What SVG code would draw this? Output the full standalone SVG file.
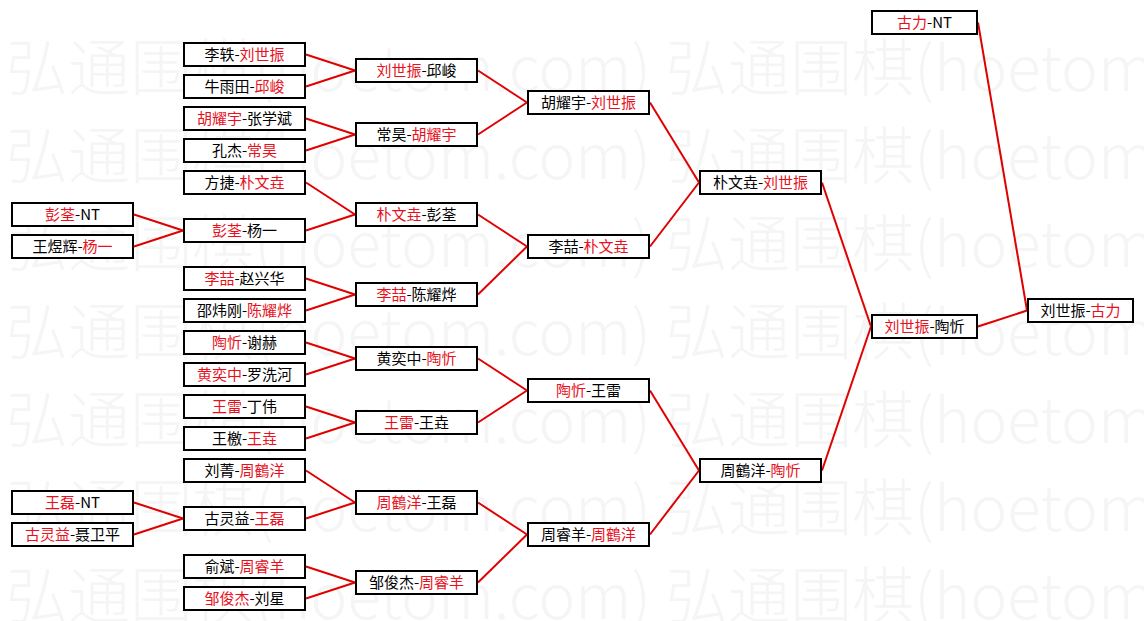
<svg xmlns="http://www.w3.org/2000/svg" width="1144" height="621" viewBox="0 0 1144 621">
<style>
.wm{font-family:"Noto Sans CJK SC","Liberation Serif",serif;font-size:62px;font-weight:300;fill:#f5f5f5}
.box{fill:#fff;stroke:#000;stroke-width:2}
.t{font-family:"Noto Sans CJK SC","Noto Sans CJK JP",sans-serif;font-size:15px;fill:#000;text-anchor:middle}
.r{fill:#e8101c}
.con line{stroke:#e00000;stroke-width:2}
</style>
<rect width="1144" height="621" fill="#fff"/>
<g id="watermark">
<text class="wm" x="6" y="91" textLength="645" lengthAdjust="spacingAndGlyphs">弘通围棋(hoetom.com)</text>
<text class="wm" x="666" y="91" textLength="645" lengthAdjust="spacingAndGlyphs">弘通围棋(hoetom.com)</text>
<text class="wm" x="6" y="179" textLength="645" lengthAdjust="spacingAndGlyphs">弘通围棋(hoetom.com)</text>
<text class="wm" x="666" y="179" textLength="645" lengthAdjust="spacingAndGlyphs">弘通围棋(hoetom.com)</text>
<text class="wm" x="6" y="267" textLength="645" lengthAdjust="spacingAndGlyphs">弘通围棋(hoetom.com)</text>
<text class="wm" x="666" y="267" textLength="645" lengthAdjust="spacingAndGlyphs">弘通围棋(hoetom.com)</text>
<text class="wm" x="6" y="355" textLength="645" lengthAdjust="spacingAndGlyphs">弘通围棋(hoetom.com)</text>
<text class="wm" x="666" y="355" textLength="645" lengthAdjust="spacingAndGlyphs">弘通围棋(hoetom.com)</text>
<text class="wm" x="6" y="443" textLength="645" lengthAdjust="spacingAndGlyphs">弘通围棋(hoetom.com)</text>
<text class="wm" x="666" y="443" textLength="645" lengthAdjust="spacingAndGlyphs">弘通围棋(hoetom.com)</text>
<text class="wm" x="6" y="531" textLength="645" lengthAdjust="spacingAndGlyphs">弘通围棋(hoetom.com)</text>
<text class="wm" x="666" y="531" textLength="645" lengthAdjust="spacingAndGlyphs">弘通围棋(hoetom.com)</text>
<text class="wm" x="6" y="619" textLength="645" lengthAdjust="spacingAndGlyphs">弘通围棋(hoetom.com)</text>
<text class="wm" x="666" y="619" textLength="645" lengthAdjust="spacingAndGlyphs">弘通围棋(hoetom.com)</text>
</g>
<g id="connectors" class="con">
<line x1="134" y1="214.5" x2="183" y2="230.5"/>
<line x1="134" y1="246.5" x2="183" y2="230.5"/>
<line x1="134" y1="502.5" x2="183" y2="518.5"/>
<line x1="134" y1="534.5" x2="183" y2="518.5"/>
<line x1="306" y1="54.5" x2="355" y2="70.5"/>
<line x1="306" y1="86.5" x2="355" y2="70.5"/>
<line x1="306" y1="118.5" x2="355" y2="134.5"/>
<line x1="306" y1="150.5" x2="355" y2="134.5"/>
<line x1="306" y1="182.5" x2="355" y2="214.5"/>
<line x1="306" y1="230.5" x2="355" y2="214.5"/>
<line x1="306" y1="278.5" x2="355" y2="294.5"/>
<line x1="306" y1="310.5" x2="355" y2="294.5"/>
<line x1="306" y1="342.5" x2="355" y2="358.5"/>
<line x1="306" y1="374.5" x2="355" y2="358.5"/>
<line x1="306" y1="406.5" x2="355" y2="422.5"/>
<line x1="306" y1="438.5" x2="355" y2="422.5"/>
<line x1="306" y1="470.5" x2="355" y2="502.5"/>
<line x1="306" y1="518.5" x2="355" y2="502.5"/>
<line x1="306" y1="566.5" x2="355" y2="582.5"/>
<line x1="306" y1="598.5" x2="355" y2="582.5"/>
<line x1="478" y1="70.5" x2="527" y2="102.5"/>
<line x1="478" y1="134.5" x2="527" y2="102.5"/>
<line x1="478" y1="214.5" x2="527" y2="246.5"/>
<line x1="478" y1="294.5" x2="527" y2="246.5"/>
<line x1="478" y1="358.5" x2="527" y2="390.5"/>
<line x1="478" y1="422.5" x2="527" y2="390.5"/>
<line x1="478" y1="502.5" x2="527" y2="534.5"/>
<line x1="478" y1="582.5" x2="527" y2="534.5"/>
<line x1="650" y1="102.5" x2="699" y2="182.5"/>
<line x1="650" y1="246.5" x2="699" y2="182.5"/>
<line x1="650" y1="390.5" x2="699" y2="470.5"/>
<line x1="650" y1="534.5" x2="699" y2="470.5"/>
<line x1="822" y1="182.5" x2="871" y2="326.5"/>
<line x1="822" y1="470.5" x2="871" y2="326.5"/>
<line x1="978" y1="22.5" x2="1027" y2="310.5"/>
<line x1="978" y1="326.5" x2="1027" y2="310.5"/>
</g>
<g id="n1a"><rect class="box" x="12" y="203" width="121" height="23"/><text class="t" x="72.5" y="220"><tspan class="r">彭荃</tspan>-NT</text></g>
<g id="n1b"><rect class="box" x="12" y="235" width="121" height="23"/><text class="t" x="72.5" y="252">王煜辉-<tspan class="r">杨一</tspan></text></g>
<g id="n1c"><rect class="box" x="12" y="491" width="121" height="23"/><text class="t" x="72.5" y="508"><tspan class="r">王磊</tspan>-NT</text></g>
<g id="n1d"><rect class="box" x="12" y="523" width="121" height="23"/><text class="t" x="72.5" y="540"><tspan class="r">古灵益</tspan>-聂卫平</text></g>
<g id="n2a"><rect class="box" x="184" y="43" width="121" height="23"/><text class="t" x="244.5" y="60">李轶-<tspan class="r">刘世振</tspan></text></g>
<g id="n2b"><rect class="box" x="184" y="75" width="121" height="23"/><text class="t" x="244.5" y="92">牛雨田-<tspan class="r">邱峻</tspan></text></g>
<g id="n2c"><rect class="box" x="184" y="107" width="121" height="23"/><text class="t" x="244.5" y="124"><tspan class="r">胡耀宇</tspan>-张学斌</text></g>
<g id="n2d"><rect class="box" x="184" y="139" width="121" height="23"/><text class="t" x="244.5" y="156">孔杰-<tspan class="r">常昊</tspan></text></g>
<g id="n2e"><rect class="box" x="184" y="171" width="121" height="23"/><text class="t" x="244.5" y="188">方捷-<tspan class="r">朴文垚</tspan></text></g>
<g id="n2f"><rect class="box" x="184" y="219" width="121" height="23"/><text class="t" x="244.5" y="236"><tspan class="r">彭荃</tspan>-杨一</text></g>
<g id="n2g"><rect class="box" x="184" y="267" width="121" height="23"/><text class="t" x="244.5" y="284"><tspan class="r">李喆</tspan>-赵兴华</text></g>
<g id="n2h"><rect class="box" x="184" y="299" width="121" height="23"/><text class="t" x="244.5" y="316">邵炜刚-<tspan class="r">陈耀烨</tspan></text></g>
<g id="n2i"><rect class="box" x="184" y="331" width="121" height="23"/><text class="t" x="244.5" y="348"><tspan class="r">陶忻</tspan>-谢赫</text></g>
<g id="n2j"><rect class="box" x="184" y="363" width="121" height="23"/><text class="t" x="244.5" y="380"><tspan class="r">黄奕中</tspan>-罗洗河</text></g>
<g id="n2k"><rect class="box" x="184" y="395" width="121" height="23"/><text class="t" x="244.5" y="412"><tspan class="r">王雷</tspan>-丁伟</text></g>
<g id="n2l"><rect class="box" x="184" y="427" width="121" height="23"/><text class="t" x="244.5" y="444">王檄-<tspan class="r">王垚</tspan></text></g>
<g id="n2m"><rect class="box" x="184" y="459" width="121" height="23"/><text class="t" x="244.5" y="476">刘菁-<tspan class="r">周鶴洋</tspan></text></g>
<g id="n2n"><rect class="box" x="184" y="507" width="121" height="23"/><text class="t" x="244.5" y="524">古灵益-<tspan class="r">王磊</tspan></text></g>
<g id="n2o"><rect class="box" x="184" y="555" width="121" height="23"/><text class="t" x="244.5" y="572">俞斌-<tspan class="r">周睿羊</tspan></text></g>
<g id="n2p"><rect class="box" x="184" y="587" width="121" height="23"/><text class="t" x="244.5" y="604"><tspan class="r">邹俊杰</tspan>-刘星</text></g>
<g id="n3a"><rect class="box" x="356" y="59" width="121" height="23"/><text class="t" x="416.5" y="76"><tspan class="r">刘世振</tspan>-邱峻</text></g>
<g id="n3b"><rect class="box" x="356" y="123" width="121" height="23"/><text class="t" x="416.5" y="140">常昊-<tspan class="r">胡耀宇</tspan></text></g>
<g id="n3c"><rect class="box" x="356" y="203" width="121" height="23"/><text class="t" x="416.5" y="220"><tspan class="r">朴文垚</tspan>-彭荃</text></g>
<g id="n3d"><rect class="box" x="356" y="283" width="121" height="23"/><text class="t" x="416.5" y="300"><tspan class="r">李喆</tspan>-陈耀烨</text></g>
<g id="n3e"><rect class="box" x="356" y="347" width="121" height="23"/><text class="t" x="416.5" y="364">黄奕中-<tspan class="r">陶忻</tspan></text></g>
<g id="n3f"><rect class="box" x="356" y="411" width="121" height="23"/><text class="t" x="416.5" y="428"><tspan class="r">王雷</tspan>-王垚</text></g>
<g id="n3g"><rect class="box" x="356" y="491" width="121" height="23"/><text class="t" x="416.5" y="508"><tspan class="r">周鶴洋</tspan>-王磊</text></g>
<g id="n3h"><rect class="box" x="356" y="571" width="121" height="23"/><text class="t" x="416.5" y="588">邹俊杰-<tspan class="r">周睿羊</tspan></text></g>
<g id="n4a"><rect class="box" x="528" y="91" width="121" height="23"/><text class="t" x="588.5" y="108">胡耀宇-<tspan class="r">刘世振</tspan></text></g>
<g id="n4b"><rect class="box" x="528" y="235" width="121" height="23"/><text class="t" x="588.5" y="252">李喆-<tspan class="r">朴文垚</tspan></text></g>
<g id="n4c"><rect class="box" x="528" y="379" width="121" height="23"/><text class="t" x="588.5" y="396"><tspan class="r">陶忻</tspan>-王雷</text></g>
<g id="n4d"><rect class="box" x="528" y="523" width="121" height="23"/><text class="t" x="588.5" y="540">周睿羊-<tspan class="r">周鶴洋</tspan></text></g>
<g id="n5a"><rect class="box" x="700" y="171" width="121" height="23"/><text class="t" x="760.5" y="188">朴文垚-<tspan class="r">刘世振</tspan></text></g>
<g id="n5b"><rect class="box" x="700" y="459" width="121" height="23"/><text class="t" x="760.5" y="476">周鶴洋-<tspan class="r">陶忻</tspan></text></g>
<g id="n6a"><rect class="box" x="872" y="11" width="105" height="23"/><text class="t" x="924.5" y="28"><tspan class="r">古力</tspan>-NT</text></g>
<g id="n6b"><rect class="box" x="872" y="315" width="105" height="23"/><text class="t" x="924.5" y="332"><tspan class="r">刘世振</tspan>-陶忻</text></g>
<g id="n7a"><rect class="box" x="1028" y="299" width="105" height="23"/><text class="t" x="1080.5" y="316">刘世振-<tspan class="r">古力</tspan></text></g>
</svg>
